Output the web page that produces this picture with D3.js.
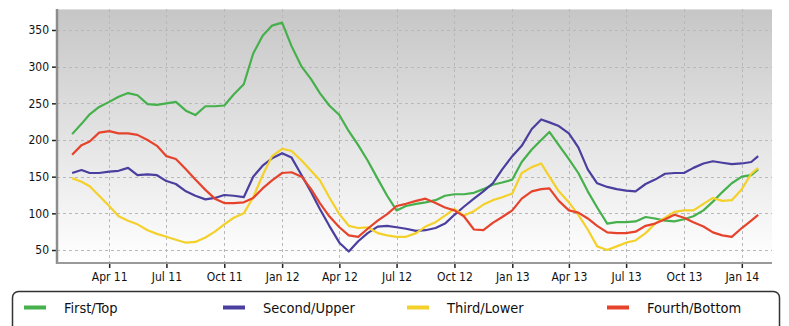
<!DOCTYPE html>
<html>
<head>
<meta charset="utf-8">
<script src="https://cdn.jsdelivr.net/npm/d3@7/dist/d3.min.js"></script>
<style>
  html, body { margin: 0; padding: 0; background: #fff; }
  svg { display: block; }
</style>
</head>
<body>
<svg id="chart" width="789" height="326"></svg>
<script>
const dates = [
  "2011-02-01","2011-02-16","2011-03-01","2011-03-16","2011-04-01","2011-04-16","2011-05-01","2011-05-16",
  "2011-06-01","2011-06-16","2011-07-01","2011-07-16","2011-08-01","2011-08-16","2011-09-01","2011-09-16",
  "2011-10-01","2011-10-16","2011-11-01","2011-11-16","2011-12-01","2011-12-16","2012-01-01","2012-01-16",
  "2012-02-01","2012-02-16","2012-03-01","2012-03-16","2012-04-01","2012-04-16","2012-05-01","2012-05-16",
  "2012-06-01","2012-06-16","2012-07-01","2012-07-16","2012-08-01","2012-08-16","2012-09-01","2012-09-16",
  "2012-10-01","2012-10-16","2012-11-01","2012-11-16","2012-12-01","2012-12-16","2013-01-01","2013-01-16",
  "2013-02-01","2013-02-16","2013-03-01","2013-03-16","2013-04-01","2013-04-16","2013-05-01","2013-05-16",
  "2013-06-01","2013-06-16","2013-07-01","2013-07-16","2013-08-01","2013-08-16","2013-09-01","2013-09-16",
  "2013-10-01","2013-10-16","2013-11-01","2013-11-16","2013-12-01","2013-12-16","2014-01-01","2014-01-16",
  "2014-01-27"
];

const firstTop = [
  208,222,235,245,252,259,264,261,249,248,250,252,240,234,246,246,
  247,262,276,318,342,356,360,328,300,283,264,247,234,212,193,172,
  147,124,104,110,113,115,118,124,126,126,128,133,139,142,146,170,
  187,200,211,193,174,155,130,108,86,88,88,89,95,93,90,89,
  92,96,104,116,129,141,150,152,160
];
const secondUpper = [
  155,159,155,155,157,158,162,152,153,152,144,140,130,124,119,121,
  125,124,122,150,165,175,182,176,152,129,106,83,60,48,62,73,
  82,83,81,79,76,77,80,86,98,109,120,130,141,160,178,192,
  215,228,224,219,209,190,160,141,136,133,131,130,140,146,154,155,
  155,162,168,171,169,167,168,170,178
];
const thirdLower = [
  148,143,137,124,110,96,90,85,77,72,68,64,60,61,67,75,
  85,94,100,122,152,178,188,185,172,158,145,122,99,83,80,81,
  73,70,68,68,73,82,88,97,106,97,103,112,118,122,127,155,
  163,168,150,130,115,98,78,55,50,55,60,63,73,86,94,102,
  104,104,113,121,117,118,133,154,162
];
const fourthBottom = [
  180,193,198,210,212,209,209,207,200,192,178,174,160,146,132,120,
  114,114,115,121,134,145,155,156,150,133,114,96,81,70,68,79,
  90,99,110,113,117,120,114,108,104,96,78,77,87,95,104,120,
  130,133,134,117,104,101,93,83,74,73,73,75,83,86,92,98,
  94,88,82,74,70,68,80,90,98
];

const seriesNames = ["First/Top", "Second/Upper", "Third/Lower", "Fourth/Bottom"];
const seriesColors = ["#45b04c", "#4a3f9f", "#f3d12a", "#e6432d"];
const yTicks = [50, 100, 150, 200, 250, 300, 350];
const xTickDates = ["2011-04-01","2011-07-01","2011-10-01","2012-01-01","2012-04-01","2012-07-01",
                    "2012-10-01","2013-01-01","2013-04-01","2013-07-01","2013-10-01","2014-01-01"];

const parse = d3.timeParse("%Y-%m-%d");
const allSeries = [firstTop, secondUpper, thirdLower, fourthBottom];

const svg = d3.select("#chart");
const pL = 57, pR = 772, pT = 9, pB = 263;

const x = d3.scaleTime()
  .domain([parse("2011-01-08"), parse("2014-02-18")])
  .range([pL, pR]);
const y = d3.scaleLinear()
  .domain([32.3, 378.6])
  .range([pB, pT]);

// background gradient
const defs = svg.append("defs");
const grad = defs.append("linearGradient").attr("id", "bg").attr("x1", 0).attr("y1", 0).attr("x2", 0).attr("y2", 1);
grad.append("stop").attr("offset", "0%").attr("stop-color", "#c6c6c6");
grad.append("stop").attr("offset", "55%").attr("stop-color", "#e6e6e6");
grad.append("stop").attr("offset", "100%").attr("stop-color", "#ffffff");

svg.append("rect")
  .attr("x", pL).attr("y", pT)
  .attr("width", pR - pL).attr("height", pB - pT)
  .attr("fill", "url(#bg)");

svg.append("line").attr("x1", pL).attr("x2", pR).attr("y1", pT + 0.5).attr("y2", pT + 0.5)
  .attr("stroke", "#dedede").attr("stroke-width", 1);

// grid
const grid = svg.append("g");
grid.selectAll("line.h").data(yTicks).join("line")
  .attr("x1", pL).attr("x2", pR)
  .attr("y1", d => Math.round(y(d)) + 0.5).attr("y2", d => Math.round(y(d)) + 0.5)
  .attr("stroke", "#b9b9b9").attr("stroke-width", 1).attr("stroke-dasharray", "3,3");
grid.selectAll("line.v").data(xTickDates).join("line")
  .attr("x1", d => Math.round(x(parse(d))) + 0.5).attr("x2", d => Math.round(x(parse(d))) + 0.5)
  .attr("y1", pT).attr("y2", pB)
  .attr("stroke", "#b9b9b9").attr("stroke-width", 1).attr("stroke-dasharray", "3,3");

// lines
const line = d3.line()
  .x((d, i) => x(parse(dates[i])))
  .y(d => y(d));

svg.append("g").selectAll("path").data(allSeries).join("path")
  .attr("d", d => line(d))
  .attr("fill", "none")
  .attr("stroke", (d, i) => seriesColors[i])
  .attr("stroke-width", 2.2)
  .attr("stroke-linejoin", "round");

// axes
const fontFam = "'DejaVu Sans Condensed', 'DejaVu Sans', sans-serif";
const yAxis = d3.axisLeft(y).tickValues(yTicks).tickSize(5).tickPadding(3);
const gy = svg.append("g").attr("transform", `translate(${pL},0)`).call(yAxis);
gy.select(".domain").remove();
gy.selectAll(".tick line").attr("stroke", "#222").attr("stroke-width", 1.5);
gy.selectAll(".tick text").attr("font-family", fontFam).attr("font-size", 12).attr("fill", "#111");

const xAxis = d3.axisBottom(x).tickValues(xTickDates.map(parse)).tickFormat(d3.timeFormat("%b %y")).tickSize(5).tickPadding(4);
const gx = svg.append("g").attr("transform", `translate(0,${pB})`).call(xAxis);
gx.select(".domain").remove();
gx.selectAll(".tick line").attr("stroke", "#222").attr("stroke-width", 1.5);
gx.selectAll(".tick text").attr("font-family", fontFam).attr("font-size", 12).attr("fill", "#111");

svg.append("line").attr("x1", pL).attr("x2", pL).attr("y1", pT).attr("y2", pB + 1)
  .attr("stroke", "#8c8c8c").attr("stroke-width", 2.5);
svg.append("line").attr("x1", pL).attr("x2", pR).attr("y1", pB).attr("y2", pB)
  .attr("stroke", "#9a9a9a").attr("stroke-width", 2);

// legend
svg.append("rect")
  .attr("x", 12.5).attr("y", 291.5).attr("width", 767).attr("height", 45)
  .attr("rx", 6).attr("ry", 6)
  .attr("fill", "#fff").attr("stroke", "#333").attr("stroke-width", 1.5);

const legendX = [24, 223, 407, 607];
const lg = svg.append("g").selectAll("g").data(seriesNames).join("g")
  .attr("transform", (d, i) => `translate(${legendX[i]},0)`);
lg.append("line").attr("x1", 0).attr("x2", 22).attr("y1", 307.5).attr("y2", 307.5)
  .attr("stroke", (d, i) => seriesColors[i]).attr("stroke-width", 4);
lg.append("text").attr("x", 40).attr("y", 313)
  .attr("font-family", fontFam).attr("font-size", 14.5).attr("fill", "#111")
  .text(d => d);
</script>
</body>
</html>
